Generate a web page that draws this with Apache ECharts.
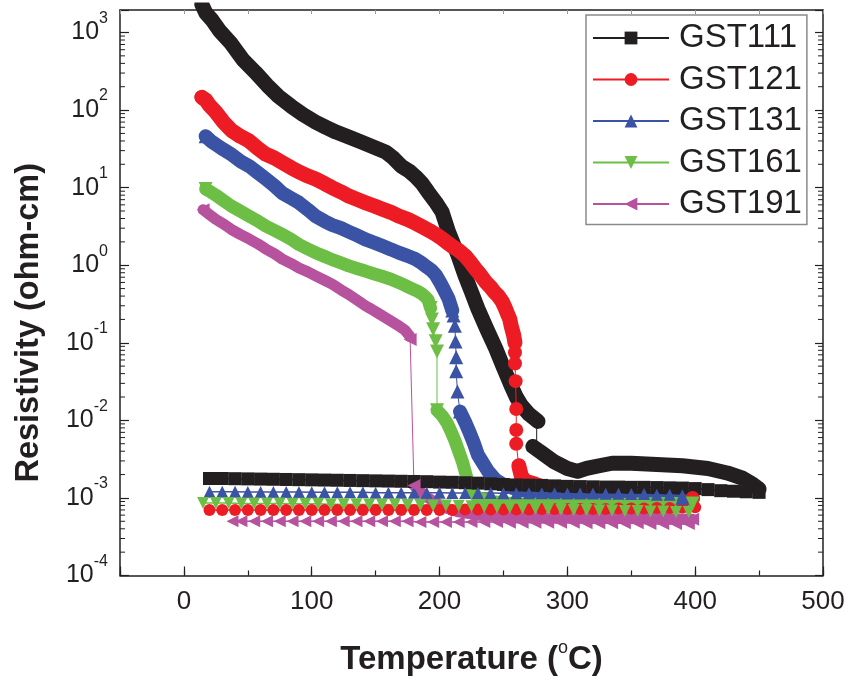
<!DOCTYPE html>
<html><head><meta charset="utf-8">
<script src="https://cdn.jsdelivr.net/npm/echarts@6/dist/echarts.min.js"></script>
<style>html,body{margin:0;padding:0;background:#fff}#c{width:850px;height:681px}</style>
</head><body><div id="c"></div><script>
// ---------------- data (Temperature °C, Resistivity ohm-cm) ----------------
const seriesNames = ['GST111', 'GST121', 'GST131', 'GST161', 'GST191'];

// heating branches (thick bands), split where the curve jumps
const heat111 = [
  [[14,2300],[17,1800],[22,1450],[28,1050],[37,720],[46,450],[56,306],[65,210],[74,150],[84,112],[93,88],[103,70],[111,60],[119,52],[129,45],[139,38.6],[149,33],[158,28.7],[164,24],[170,19],[176,16.5],[181,14],[186,11.5],[191,8.8],[197,6.5],[202,4.85],[207,2.7],[214,1.4],[220,0.73],[225,0.45],[230,0.275],[237,0.15],[244,0.084],[250,0.048],[256,0.028],[260,0.02],[264,0.0156],[270,0.012],[277,0.0097]],
  [[273,0.0046],[280,0.0038],[290,0.0029],[300,0.0024],[308,0.0022],[315,0.0024],[325,0.0026],[335,0.0028],[350,0.0028],[370,0.0027],[390,0.0026],[410,0.0024],[425,0.0021],[437,0.0018],[445,0.0015],[450,0.0013]]
];
const heat121 = [
  [[14,146],[17,135],[20,115],[25,94],[31,70],[37,55],[44,46],[51,40],[58,32],[64,27],[71,24],[77,21],[84,18],[90,16],[96,14.3],[103,12.9],[110,11.3],[116,10],[123,8.8],[129,7.8],[136,7],[142,6.4],[149,5.8],[155,5.3],[162,4.8],[168,4.3],[175,3.9],[181,3.5],[187,3.1],[192,2.8],[197,2.5],[202,2.2],[206,1.95],[210,1.75],[215,1.55],[220,1.32],[224,1.1],[228,0.9],[232,0.75],[236,0.61],[240,0.52],[243,0.45],[246,0.4],[249,0.34],[251,0.29],[253,0.24],[255,0.2],[256,0.166],[258,0.125],[259,0.1]],
  [[262,0.0026],[264,0.0019],[267,0.00165],[275,0.0015],[283,0.00135],[295,0.0013],[309,0.00123],[322,0.00115],[334,0.0011],[347,0.00107],[360,0.00105],[380,0.00102],[398,0.001]]
];
const heat131 = [
  [[17,46],[21,40],[25,36],[31,31],[37,27],[44,22],[51,19],[58,15.5],[64,13],[71,10.5],[77,8.5],[84,7.3],[90,6.4],[97,5.2],[103,4.3],[110,3.7],[116,3.3],[123,3],[129,2.7],[136,2.4],[142,2.15],[149,1.95],[155,1.78],[162,1.6],[168,1.45],[175,1.32],[181,1.2],[186,1.07],[190,0.95],[194,0.85],[197,0.75],[200,0.62],[203,0.5],[207,0.37],[210,0.26]],
  [[216,0.013],[220,0.0095],[223,0.0073],[227,0.005],[230,0.0036],[234,0.0028],[238,0.0022],[244,0.0017],[251,0.00145],[260,0.0013],[270,0.00123],[283,0.0011],[295,0.00105],[315,0.00097],[334,0.00093],[355,0.00095],[373,0.001],[390,0.001]]
];
const heat161 = [
  [[17,9.6],[21,8.8],[25,8],[31,6.8],[37,5.8],[44,5],[51,4.3],[58,3.7],[64,3.2],[71,2.8],[77,2.5],[84,2.15],[90,1.85],[97,1.62],[103,1.45],[110,1.3],[116,1.18],[123,1.07],[129,0.98],[136,0.9],[142,0.84],[149,0.77],[155,0.72],[162,0.66],[168,0.6],[173,0.55],[178,0.5],[182,0.47],[186,0.43],[189,0.39],[191,0.36],[193,0.28]],
  [[198,0.0135],[202,0.0115],[206,0.0092],[209,0.0072],[212,0.0055],[215,0.004],[218,0.0029],[220,0.0022],[223,0.00145],[226,0.0012],[230,0.001],[240,0.0009],[256,0.00085],[280,0.00082],[309,0.00081],[340,0.00082],[373,0.00085],[398,0.00085]]
];
const heat191 = [
  [[15,5.2],[20,4.5],[25,3.9],[31,3.4],[37,2.9],[44,2.5],[51,2.18],[58,1.88],[64,1.62],[71,1.4],[77,1.2],[84,1.05],[90,0.92],[97,0.82],[103,0.73],[110,0.64],[116,0.57],[123,0.48],[129,0.42],[136,0.35],[142,0.3],[147,0.27],[152,0.24],[160,0.2],[168,0.166],[173,0.145],[177,0.12]],
  [[180,0.00145],[185,0.0012],[191,0.001],[198,0.00085],[205,0.00074],[215,0.00066],[230,0.0006],[255,0.00057],[283,0.00055],[320,0.00055],[361,0.00055],[398,0.00053]]
];

// individually visible markers (start, abrupt drop, end)
const marks111 = [[[276,0.0094],[276,0.0047]]];
const marks121 = [[[14,146]], [[259,0.1],[259,0.075],[259,0.054],[259.5,0.032],[260,0.014],[260,0.0075],[260,0.005],[262,0.0026]], [[398,0.001]]];
const marks131 = [[[17,46]], [[210,0.26],[211,0.224],[212,0.166],[212.5,0.104],[213,0.065],[213,0.043],[214,0.0235],[216,0.013]], [[390,0.001]]];
const marks161 = [[[17,9.6]], [[193,0.28],[194,0.2],[195,0.15],[197,0.105],[198,0.077],[198,0.0135]], [[398,0.00085]]];
const marks191 = [[[15,5.2]], [[177,0.11],[180,0.00145]], [[398,0.00053]]];

// cooling branches
const cool111 = [[450,0.00118],[440,0.0012],[430,0.00122],[420,0.00124],[410,0.00128],[400,0.00132],[390,0.00134],[380,0.00135],[370,0.00136],[360,0.00137],[350,0.00137],[340,0.00138],[330,0.00138],[320,0.00139],[310,0.0014],[300,0.00141],[290,0.00143],[280,0.00145],[270,0.00146],[260,0.00147],[250,0.00149],[240,0.00152],[230,0.00155],[220,0.00157],[210,0.00159],[200,0.0016],[190,0.00162],[180,0.00163],[170,0.00164],[160,0.00165],[150,0.00166],[140,0.00167],[130,0.00168],[120,0.00169],[110,0.0017],[100,0.00171],[90,0.00172],[80,0.00173],[70,0.00174],[60,0.00175],[50,0.00176],[40,0.00177],[30,0.00178],[20,0.00178]];
const cool121 = [[400,0.00076],[390,0.00075],[380,0.00074],[370,0.00074],[360,0.00073],[350,0.00073],[340,0.00073],[330,0.00072],[320,0.00072],[310,0.00072],[300,0.00072],[290,0.00072],[280,0.00072],[270,0.00071],[260,0.00071],[250,0.00071],[240,0.00071],[230,0.00071],[220,0.00071],[210,0.0007],[200,0.0007],[190,0.0007],[180,0.0007],[170,0.0007],[160,0.0007],[150,0.0007],[140,0.0007],[130,0.0007],[120,0.0007],[110,0.0007],[100,0.0007],[90,0.0007],[80,0.0007],[70,0.0007],[60,0.0007],[50,0.0007],[40,0.0007],[30,0.0007],[20,0.0007]];
const cool131 = [[390,0.00108],[380,0.0011],[370,0.0011],[360,0.00112],[350,0.00112],[340,0.00113],[330,0.00113],[320,0.00114],[310,0.00114],[300,0.00114],[290,0.00115],[280,0.00115],[270,0.00115],[260,0.00115],[250,0.00115],[240,0.00116],[230,0.00116],[220,0.00116],[210,0.00116],[200,0.00117],[190,0.00117],[180,0.00117],[170,0.00117],[160,0.00117],[150,0.00117],[140,0.00118],[130,0.00118],[120,0.00118],[110,0.00118],[100,0.00118],[90,0.00119],[80,0.00119],[70,0.00119],[60,0.00119],[50,0.00119],[40,0.0012],[30,0.0012],[20,0.0012]];
const cool161 = [[395,0.00066],[385,0.00066],[375,0.00067],[365,0.00067],[355,0.00068],[345,0.00068],[335,0.00069],[325,0.00069],[315,0.0007],[305,0.0007],[295,0.00071],[285,0.00072],[275,0.00073],[265,0.00074],[255,0.00075],[245,0.00076],[235,0.00077],[225,0.00078],[215,0.00079],[205,0.0008],[195,0.0008],[185,0.00081],[175,0.00081],[165,0.00082],[155,0.00082],[145,0.00082],[135,0.00083],[125,0.00083],[115,0.00083],[105,0.00084],[95,0.00084],[85,0.00084],[75,0.00085],[65,0.00085],[55,0.00085],[45,0.00085],[35,0.00086],[25,0.00086],[15,0.00086]];
const cool191 = [[395,0.00046],[385,0.00046],[375,0.00046],[365,0.00046],[355,0.00047],[345,0.00047],[335,0.00047],[325,0.00047],[315,0.00047],[305,0.00048],[295,0.00048],[285,0.00048],[275,0.00048],[265,0.00048],[255,0.00048],[245,0.00049],[235,0.00049],[225,0.00049],[215,0.00049],[205,0.00049],[195,0.00049],[185,0.00049],[175,0.0005],[165,0.0005],[155,0.0005],[145,0.0005],[135,0.0005],[125,0.0005],[115,0.0005],[105,0.0005],[95,0.0005],[85,0.0005],[75,0.0005],[65,0.0005],[55,0.0005],[45,0.0005],[38,0.0005]];

// axis tick values
const xMajorTicks = [0, 100, 200, 300, 400, 500];
const yMinorMultipliers = [2, 3, 4, 5, 6, 7, 8, 9];
const yDecades = [-4, -3, -2, -1, 0, 1, 2];

// ---------------- styles ----------------
const INK = '#231f20';
const NUM_FONT = "'Liberation Sans', Arial, sans-serif";
const SANS = "'Liberation Sans', Arial, sans-serif";
const styles = [
  {color:'#231f20', symbol:'rect', rot:0, band:15, msize:0, csize:13},
  {color:'#ed1c24', symbol:'circle', rot:0, band:15, msize:14, csize:12},
  {color:'#3a53a4', symbol:'triangle', rot:0, band:14, msize:14, csize:12},
  {color:'#6cbe45', symbol:'triangle', rot:180, band:13, msize:14, csize:12},
  {color:'#b7529f', symbol:'triangle', rot:90, band:11, msize:13, csize:12}
];
const heats = [heat111, heat121, heat131, heat161, heat191];
const marks = [marks111, marks121, marks131, marks161, marks191];
const cools = [cool111, cool121, cool131, cool161, cool191];

const yMinorTicks = [];
yDecades.forEach(function (e) { yMinorMultipliers.forEach(function (m) { yMinorTicks.push(m * Math.pow(10, e)); }); });

const series = [];
seriesNames.forEach(function (name, i) {
  const s = styles[i];
  series.push({
    name: name, type: 'line', data: cools[i], symbol: s.symbol, symbolRotate: s.rot,
    symbolSize: s.csize, showSymbol: true, showAllSymbol: true,
    lineStyle: {width: 1.5, color: s.color}, itemStyle: {color: s.color},
    emphasis: {disabled: true}, z: 2
  });
  heats[i].forEach(function (seg) {
    series.push({
      name: name, type: 'line', data: seg, symbol: 'none', showSymbol: false,
      lineStyle: {width: s.band, color: s.color, cap: 'round', join: 'round'},
      itemStyle: {color: s.color}, emphasis: {disabled: true}, z: 2
    });
  });
  marks[i].forEach(function (seg) {
    series.push({
      name: name, type: 'line', data: seg, symbol: s.msize ? s.symbol : 'none', symbolRotate: s.rot,
      symbolSize: s.msize, showSymbol: s.msize > 0, showAllSymbol: true,
      lineStyle: {width: 1, color: s.color}, itemStyle: {color: s.color},
      emphasis: {disabled: true}, z: 2
    });
  });
});

// minor log ticks on left and right frame
series.push({
  type: 'custom', silent: true, clip: false, z: 5,
  data: yMinorTicks.map(function (v) { return [0, v]; }),
  renderItem: function (params, api) {
    const y = api.coord([0, api.value(1)])[1];
    const cs = params.coordSys;
    return {type: 'group', children: [
      {type: 'line', shape: {x1: cs.x, y1: y, x2: cs.x + 5, y2: y}, style: {stroke: INK, lineWidth: 1}},
      {type: 'line', shape: {x1: cs.x + cs.width - 5, y1: y, x2: cs.x + cs.width, y2: y}, style: {stroke: INK, lineWidth: 1}}
    ]};
  }
});

const axisLine = {show: true, onZero: false, lineStyle: {color: INK, width: 1.5}};

const option = {
  animation: false,
  backgroundColor: '#fff',
  grid: {left: 120, top: 10, width: 703, height: 567},
  legend: {
    data: seriesNames, orient: 'vertical', left: 586, top: 15,
    itemWidth: 76, itemHeight: 16, itemGap: 8.5,
    padding: [6.5, 5, 4, 6], borderColor: '#8a8a8a', borderWidth: 1.5,
    selectedMode: false,
    textStyle: {fontFamily: SANS, fontSize: 33, color: INK, lineHeight: 33, padding: [0, 0, 0, 5]}
  },
  xAxis: [
    {
      type: 'value', position: 'bottom', min: -50, max: 500, splitNumber: 5,
      axisLine: axisLine, splitLine: {show: false},
      axisTick: {inside: true, length: 9, lineStyle: {color: INK, width: 1.2}},
      axisLabel: {
        margin: 13, color: INK, fontFamily: NUM_FONT, fontSize: 26,
        formatter: function (v) { return xMajorTicks.indexOf(v) >= 0 ? String(v) : ''; }
      },
      name: '{t|Temperature (}{o|o}{t|C)}', nameLocation: 'middle', nameGap: 64,
      nameTextStyle: {
        rich: {
          t: {fontFamily: SANS, fontWeight: 'bold', fontSize: 33, color: INK, lineHeight: 40},
          o: {fontFamily: SANS, fontSize: 18, color: INK, lineHeight: 18, verticalAlign: 'top'}
        }
      }
    },
    {
      type: 'value', position: 'bottom', min: -50, max: 500, interval: 50,
      axisLine: {show: false, onZero: false}, splitLine: {show: false}, axisLabel: {show: false},
      axisTick: {inside: true, length: 5, lineStyle: {color: INK, width: 1.2}}
    },
    {
      type: 'value', position: 'top', min: -50, max: 500, interval: 50,
      axisLine: axisLine, splitLine: {show: false}, axisLabel: {show: false},
      axisTick: {inside: true, length: 4, lineStyle: {color: '#999', width: 1}}
    }
  ],
  yAxis: [
    {
      type: 'log', logBase: 10, min: 1e-4, max: 1950, splitNumber: 7, position: 'left',
      axisLine: axisLine, splitLine: {show: false},
      axisTick: {inside: true, length: 9, lineStyle: {color: INK, width: 1.2}},
      axisLabel: {
        margin: 12, color: INK,
        formatter: function (v) {
          const l = Math.log10(v), e = Math.round(l);
          if (Math.abs(l - e) > 1e-6) return '';
          return '{b|10}{s|' + e + '}';
        },
        rich: {
          b: {fontFamily: NUM_FONT, fontSize: 25, color: INK, lineHeight: 44},
          s: {fontFamily: NUM_FONT, fontSize: 16, color: INK, lineHeight: 16, verticalAlign: 'top'}
        }
      },
      name: 'Resistivity (ohm-cm)', nameLocation: 'middle', nameGap: 74, nameRotate: 90,
      nameTextStyle: {fontFamily: SANS, fontWeight: 'bold', fontSize: 32.5, color: INK, padding: [0, 60, 0, 0]}
    },
    {
      type: 'log', logBase: 10, min: 1e-4, max: 1950, splitNumber: 7, position: 'right',
      axisLine: axisLine, splitLine: {show: false}, axisLabel: {show: false},
      axisTick: {inside: true, length: 8, lineStyle: {color: INK, width: 1.2}}
    }
  ],
  series: series
};

const chart = echarts.init(document.getElementById('c'), null, {renderer: 'canvas'});
chart.setOption(option);
</script></body></html>
